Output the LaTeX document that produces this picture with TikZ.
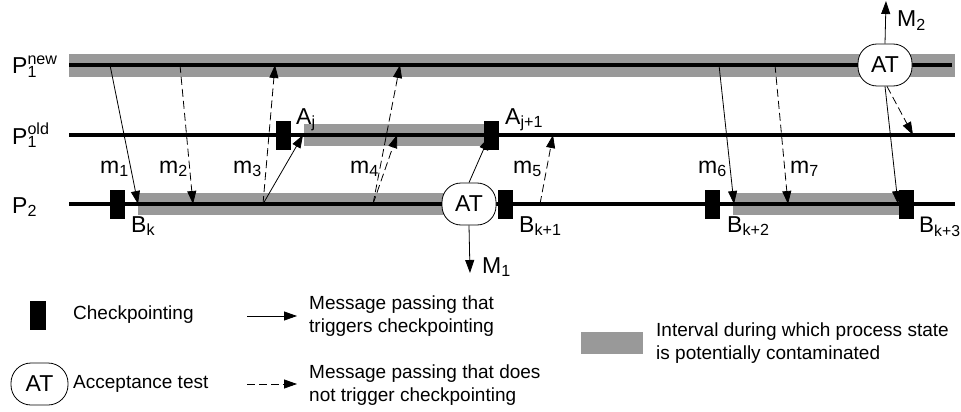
\documentclass[tikz,border=0pt]{standalone}
\usepackage{fontspec}
\setmainfont{Liberation Sans}
\usetikzlibrary{arrows.meta}
\definecolor{band}{RGB}{153,153,153}
\newcommand{\biglabel}{\fontsize{23}{27}\selectfont}
\newcommand{\leglabel}{\fontsize{19}{23}\selectfont}
\begin{document}
\begin{tikzpicture}[x=1pt,y=-1pt,
  proc/.style={line width=4pt},
  msg/.style={line width=0.8pt, -{Triangle[length=13pt,width=9pt]}},
  dmsg/.style={msg, dash pattern=on 8pt off 4pt},
  ckpt/.style={fill=black, minimum width=15pt, minimum height=29pt, inner sep=0},
  atnode/.style={draw, fill=white, line width=0.8pt, rounded corners=19pt, minimum width=54pt, minimum height=42pt, inner sep=0, font=\biglabel},
  lab/.style={font=\biglabel, inner sep=0, anchor=base west},
  leg/.style={font=\leglabel, inner sep=0, align=left, anchor=west},
]
\useasboundingbox (0,0) rectangle (961,412);
% contaminated intervals
\fill[band] (69,54) rectangle (955,77);
\fill[band] (304,124) rectangle (485,146);
\fill[band] (138,193) rectangle (445,215);
\fill[band] (733,193) rectangle (900,215);
% process lines
\draw[proc] (69,65) -- (952,65);
\draw[proc] (69,135) -- (955,135);
\draw[proc] (69,204) -- (955,204);
% process labels
\node[lab] (P1n) at (12,74) {P\rlap{\textsuperscript{new}}\textsubscript{1}};
\node[lab] (P1o) at (12,144) {P\rlap{\textsuperscript{old}}\textsubscript{1}};
\node[lab] (P2) at (12,213) {P\textsubscript{2}};
% checkpoints
\node[ckpt] (Bk) at (117,204) {};
\node[ckpt] (Aj) at (283,135) {};
\node[ckpt] (Aj1) at (491,135) {};
\node[ckpt] (Bk1) at (505,204) {};
\node[ckpt] (Bk2) at (712,204) {};
\node[ckpt] (Bk3) at (906,204) {};
% acceptance tests
\node[atnode] (AT2) at (469,204) {AT};
\node[atnode] (AT1) at (885,65) {AT};
% message end points
\coordinate (m1s) at (110,65);  \coordinate (m1e) at (138,204);
\coordinate (m2s) at (180,65);  \coordinate (m2e) at (193,204);
\coordinate (m3s) at (263,204); \coordinate (m3e) at (275,65); \coordinate (m3f) at (303,135);
\coordinate (m4s) at (373,204); \coordinate (m4e) at (400,65); \coordinate (m4f) at (397,135);
\coordinate (m5s) at (540,204); \coordinate (m5e) at (553,135);
\coordinate (m6s) at (719,65);  \coordinate (m6e) at (734,204);
\coordinate (m7s) at (775,65);  \coordinate (m7e) at (788,204);
\coordinate (aje) at (489,137);
\coordinate (bk3e) at (898,204);
\coordinate (olde) at (913,135);
\coordinate (M1e) at (470,273);
\coordinate (M2e) at (886,1);
% messages
\draw[msg] (m1s) -- (m1e);
\draw[dmsg] (m2s) -- (m2e);
\draw[dmsg] (m3s) -- (m3e);
\draw[msg] (m3s) -- (m3f);
\draw[dmsg] (m4s) -- (m4e);
\draw[dmsg] (m4s) -- (m4f);
\draw[msg] (AT2.north) -- (aje);
\draw[dmsg] (m5s) -- (m5e);
\draw[msg] (m6s) -- (m6e);
\draw[dmsg] (m7s) -- (m7e);
\draw[msg] (AT1.south) -- (bk3e);
\draw[dmsg] ([xshift=2pt]AT1.south) -- (olde);
\draw[msg] (AT2.south) -- (M1e);
\draw[msg] (AT1.north) -- (M2e);
% labels
\node[lab] at (100,173) {m\textsubscript{1}};
\node[lab] at (159,173) {m\textsubscript{2}};
\node[lab] at (233,173) {m\textsubscript{3}};
\node[lab] at (350,173) {m\textsubscript{4}};
\node[lab] at (513,173) {m\textsubscript{5}};
\node[lab] at (698,173) {m\textsubscript{6}};
\node[lab] at (790,173) {m\textsubscript{7}};
\node[lab] at (131,232) {B\textsubscript{k}};
\node[lab] at (519,232) {B\textsubscript{k+1}};
\node[lab] at (727,232) {B\textsubscript{k+2}};
\node[lab, font=\fontsize{22.5}{26}\selectfont] at (919,232) {B\textsubscript{k+3}};
\node[lab] at (296,124) {A\textsubscript{j}};
\node[lab] at (505,124) {A\textsubscript{j+1}};
\node[lab] at (482,273) {M\textsubscript{1}};
\node[lab] at (897,27) {M\textsubscript{2}};
% legend
\node[ckpt, minimum width=16pt] (lck) at (38,315.5) {};
\node[leg] (lckt) at (73,315) {Checkpointing};
\node[atnode, minimum width=57pt, rounded corners=20pt] (lat) at (39.5,384) {AT};
\node[leg] (latt) at (73,384) {Acceptance test};
\coordinate (ls1) at (247,316); \coordinate (le1) at (297,316);
\coordinate (ls2) at (247,384); \coordinate (le2) at (297,384);
\draw[msg] (ls1) -- (le1);
\draw[dmsg] (ls2) -- (le2);
\node[leg] (lmt) at (309,316.5) {Message passing that\\triggers checkpointing};
\node[leg] (lmd) at (309,385) {Message passing that does\\not trigger checkpointing};
\fill[band] (581,332) rectangle (643,354);
\node[leg] (lbt) at (656,343) {Interval during which process state\\is potentially contaminated};
\end{tikzpicture}
\end{document}
